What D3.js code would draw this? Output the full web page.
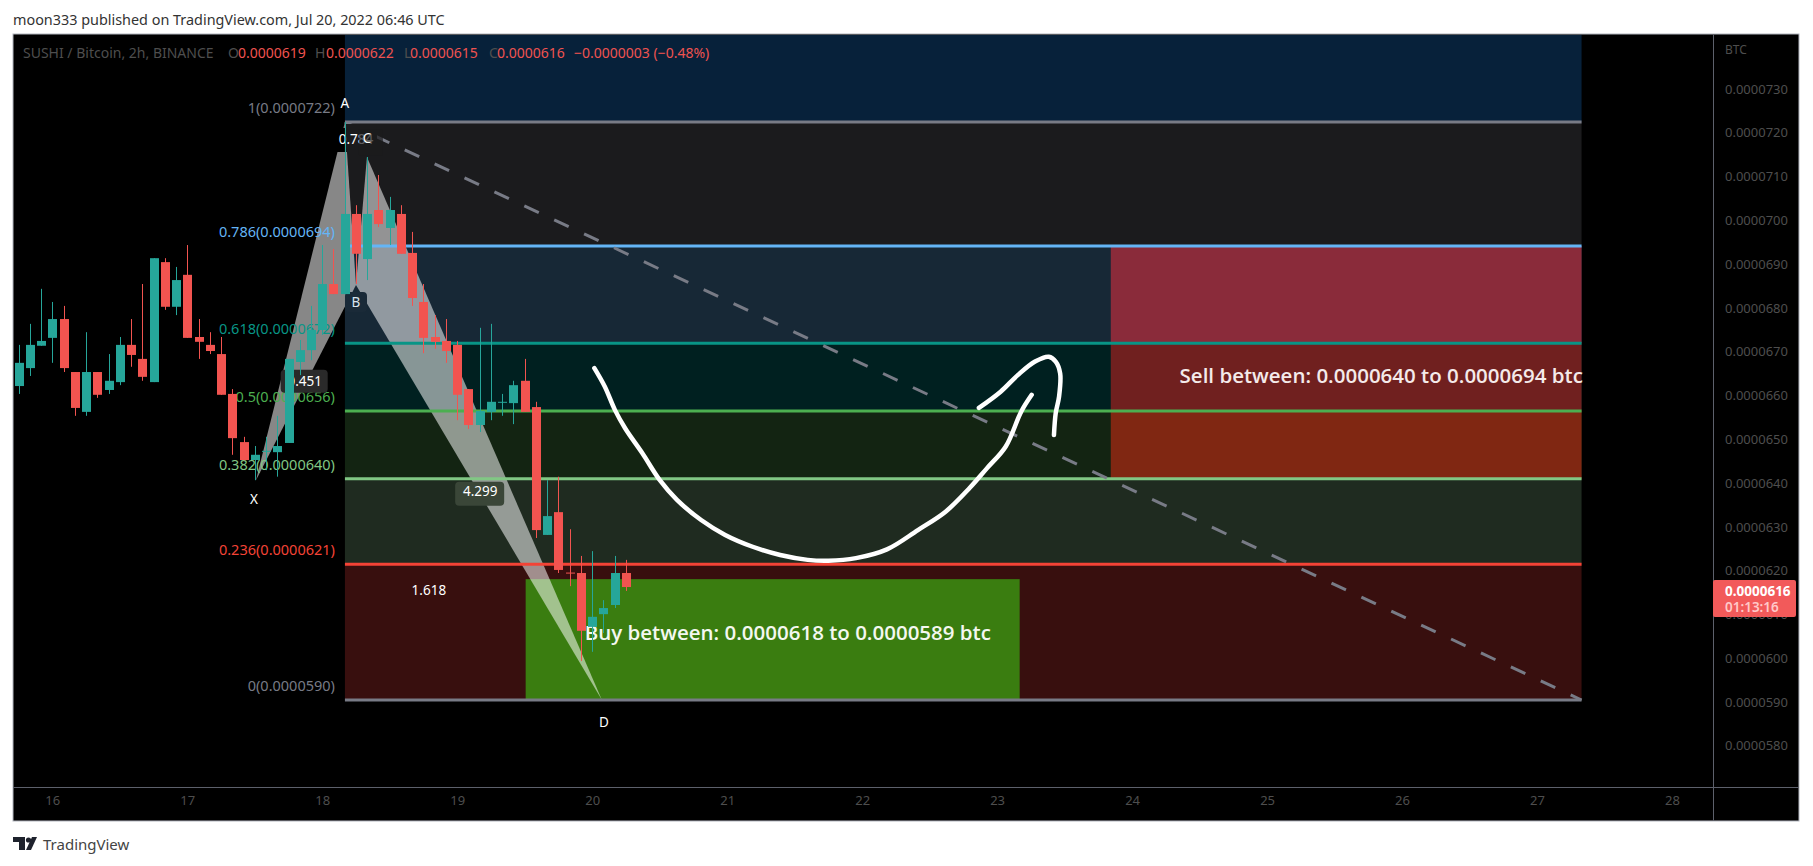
<!DOCTYPE html>
<html>
<head>
<meta charset="utf-8">
<title>SUSHI / Bitcoin</title>
<script src="https://cdn.jsdelivr.net/npm/d3@7"></script>
<style>
html,body{margin:0;padding:0;background:#fff;overflow:hidden;}
svg{display:block;font-family:"Noto Sans",Roboto,sans-serif;}
</style>
</head>
<body>
<div id="chart"></div>
<script>
// all prices are in units of 0.0000001 BTC
const firstBarDay=15.75;
const opens =[661.7,665.8,670.9,672.7,677.0,664.9,655.8,664.9,660.8,662.6,671.1,667.9,662.6,690.0,679.8,687.1,672.9,671.1,669.0,659.9,648.9,644.8,646.8,646.6,648.7,667.2,669.9,674.5,685.0,682.7,701.0,690.7,701.9,697.8,701.0,692.1,680.9,672.9,672.0,671.1,661.0,652.8,655.8,658.0,657.8,662.9,656.9,627.7,632.9,619.1,619.0,606.7,609.6,611.7,619.0];
const highs =[671.1,675.9,683.9,680.9,680.0,664.9,674.0,664.9,669.0,672.9,677.0,685.0,690.9,690.9,688.9,693.9,677.0,674.0,672.9,661.0,650.1,648.0,650.1,654.9,667.9,672.2,680.0,693.9,693.0,722.0,703.0,714.0,709.9,704.9,703.0,696.9,685.0,677.9,677.0,672.0,661.0,675.0,675.9,659.9,662.9,667.9,658.1,640.2,641.0,629.0,622.9,624.0,612.8,622.9,622.0];
const lows  =[659.9,664.0,670.9,667.0,664.9,654.9,654.9,659.0,659.9,661.9,666.1,662.9,662.6,679.1,677.9,672.7,667.9,669.0,659.7,646.0,644.8,640.2,642.5,641.0,648.7,664.2,667.6,673.4,682.7,682.7,685.0,685.9,698.0,693.9,691.9,680.0,669.2,670.2,667.0,653.9,651.9,651.2,653.9,654.9,653.0,655.8,627.0,627.7,619.0,616.0,598.9,601.0,605.3,611.0,614.9];
const closes=[667.0,671.1,672.0,677.0,665.8,656.7,664.9,659.7,662.9,671.1,668.8,663.8,690.9,679.8,685.9,672.7,671.8,669.7,659.7,649.8,644.8,646.0,646.9,648.0,667.9,669.9,674.5,685.0,682.7,701.0,691.9,701.0,698.7,701.9,691.9,681.8,672.7,671.8,669.7,659.7,652.8,656.0,658.1,658.1,661.9,655.8,628.8,632.0,619.7,619.0,605.8,609.0,611.0,619.0,615.8];

const dayTicks=[16,17,18,19,20,21,22,23,24,25,26,27,28];
const priceTicks=[730,720,710,700,690,680,670,660,650,640,630,620,610,600,590,580];

const fibPrices=[722,693.7,671.5,656,640.5,621,590];
const fibLabels=["1(0.0000722)","0.786(0.0000694)","0.618(0.0000672)","0.5(0.0000656)","0.382(0.0000640)","0.236(0.0000621)","0(0.0000590)"];
const fibColors=["#787b86","#64b5f6","#089586","#4caf50","#81c784","#f44336","#787b86"];
const bandColors=["#1b1b1d","#172836","#002020","#132412","#1f2b20","#380f0e"];
const fibStartDay=18.168, fibEndDay=27.33;
const topBandColor="#07213a";

const sellStartDay=23.842;
const sellColors=["#8a2b3a","#70201f","#802712"];
const buyDays=[19.507,23.167];
const buyPrices=[617.6,590];

const patternDays  =[17.509,18.168,18.25,18.331,20.072];
const patternPrices=[640.2,722,684.8,714,590];

const curveDays  =[20.016,20.093,20.169,20.245,20.373,20.501,20.628,20.807,20.985,21.189,21.393,21.597,21.75,21.954,22.184,22.413,22.618,22.796,22.924,23.064,23.179,23.256];
const curvePrices=[665.8,661.6,656.2,652.0,646.3,640.2,635.7,631.1,627.7,625.0,623.1,622.0,621.8,622.4,624.4,628.8,633.0,638.4,642.9,647.9,655.9,659.7];
const hookDays   =[22.865,23.026,23.153,23.281,23.383,23.434,23.467,23.459,23.434,23.421];
const hookPrices =[656.7,660.4,664.2,667.3,668.4,667.3,664.6,659.3,655.5,650.5];

const width=1813, height=866;
const paneLeft=13, paneRight=1799, paneTop=34, paneBottom=821, axisX=1713, axisY=787;

const x=d3.scaleLinear().domain([16,28]).range([52.3,1672]);
const y=d3.scaleLinear().domain([722,590]).range([122,700]);

const svg=d3.select("#chart").append("svg").attr("width",width).attr("height",height);

// pane
svg.append("rect").attr("x",paneLeft).attr("y",paneTop).attr("width",paneRight-paneLeft).attr("height",paneBottom-paneTop)
    .attr("fill","#000").attr("stroke","#b2b5be").attr("stroke-width",1);

// fib bands
const bandX=x(fibStartDay), bandW=x(fibEndDay)-x(fibStartDay);
svg.append("rect").attr("x",bandX).attr("y",paneTop+1).attr("width",bandW).attr("height",y(fibPrices[0])-paneTop-1).attr("fill",topBandColor);
bandColors.forEach((c,i)=>{
    svg.append("rect").attr("x",bandX).attr("y",y(fibPrices[i])).attr("width",bandW)
        .attr("height",y(fibPrices[i+1])-y(fibPrices[i])).attr("fill",c);
});

// sell + buy boxes
sellColors.forEach((c,i)=>{
    svg.append("rect").attr("x",x(sellStartDay)).attr("y",y(fibPrices[i+1]))
        .attr("width",x(fibEndDay)-x(sellStartDay)).attr("height",y(fibPrices[i+2])-y(fibPrices[i+1])).attr("fill",c);
});
svg.append("rect").attr("x",x(buyDays[0])).attr("y",y(buyPrices[0]))
    .attr("width",x(buyDays[1])-x(buyDays[0])).attr("height",y(buyPrices[1])-y(buyPrices[0])).attr("fill","#3a7d10");

// harmonic pattern
const pt=i=>[x(patternDays[i]),y(patternPrices[i])];
[[0,1,2],[2,3,4]].forEach(tri=>{
    svg.append("polygon").attr("points",tri.map(pt).map(p=>p.join(",")).join(" "))
        .attr("fill","#fff").attr("fill-opacity",0.53);
});

// fib lines
fibPrices.forEach((p,i)=>{
    svg.append("line").attr("x1",bandX).attr("x2",bandX+bandW).attr("y1",y(p)).attr("y2",y(p))
        .attr("stroke",fibColors[i]).attr("stroke-width",3);
    svg.append("text").attr("x",bandX-10).attr("y",y(p)-14).attr("dy","0.35em").attr("text-anchor","end")
        .attr("font-size",14.5).attr("fill",fibColors[i]).text(fibLabels[i]);
});

// dashed trend line
svg.append("line").attr("x1",bandX).attr("y1",y(722)).attr("x2",bandX+bandW).attr("y2",y(590))
    .attr("stroke","#787b86").attr("stroke-width",3).attr("stroke-dasharray","16 17");

// pattern labels
function label(txt,px,py,color){
    return svg.append("text").attr("x",px).attr("y",py).attr("dy","0.35em").attr("text-anchor","middle")
        .attr("font-size",13.5).attr("fill",color||"#fff").text(txt);
}
const [ax,ay]=pt(1), [bx,by]=pt(2), [cx,cy]=pt(3), [dx,dy]=pt(4), [xx,xy]=pt(0);
svg.append("rect").attr("x",ax-10).attr("y",ay+6).attr("width",10).attr("height",24).attr("fill","#000");
svg.append("rect").attr("x",ax).attr("y",ay+2).attr("width",32).attr("height",28).attr("fill","#1b1b1d");
label("0.784",ax+11,ay+17);
svg.append("rect").attr("x",cx-8).attr("y",cy-28).attr("width",24).attr("height",26).attr("fill","#1b1b1d").attr("fill-opacity",0.7);
label("C",cx,cy-19);
label("A",ax,ay-19);
svg.append("rect").attr("x",bx-11).attr("y",by+7).attr("width",22).attr("height",20).attr("rx",4).attr("fill","#1a2a38");
label("B",bx,by+17,"#d8e4ee");
label("X",xx-2,xy+19);
label("D",dx+2,dy+22);
svg.append("rect").attr("x",x(17.87)-24).attr("y",y(662.9)-11).attr("width",47).attr("height",23).attr("rx",4).attr("fill","#2a2a2a");
label("0.451",x(17.87),y(662.9));
svg.append("rect").attr("x",x(19.17)-25).attr("y",y(640.5)+3).attr("width",49).attr("height",24).attr("rx",4).attr("fill","#3a4638");
label("4.299",x(19.17),y(640.5)+12);
label("1.618",x(18.79),y(615));

// box texts
svg.append("text").attr("x",x(fibEndDay)-402).attr("y",y(fibPrices[3])-35).attr("dy","0.35em")
    .attr("font-size",20.5).attr("font-weight",600).attr("font-family","'Open Sans'").attr("fill","#f4eaea").text("Sell between: 0.0000640 to 0.0000694 btc");
svg.append("text").attr("x",x(buyDays[0])+59).attr("y",y(605.3)).attr("dy","0.35em")
    .attr("font-size",20.5).attr("font-weight",600).attr("font-family","'Open Sans'").attr("fill","#f4f8f0").text("Buy between: 0.0000618 to 0.0000589 btc");

// hand drawn arrow
const penLine=d3.line().x(d=>x(d[0])).y(d=>y(d[1])).curve(d3.curveCatmullRom);
[[curveDays,curvePrices],[hookDays,hookPrices]].forEach(([ds,ps])=>{
    svg.append("path").attr("d",penLine(d3.zip(ds,ps))).attr("fill","none")
        .attr("stroke","#fff").attr("stroke-width",4.5).attr("stroke-linecap","round").attr("stroke-linejoin","round");
});

// candles
const candles=svg.append("g");
opens.forEach((o,i)=>{
    const cxBar=Math.round(x(firstBarDay+i/12));
    const up=closes[i]>=o;
    const color=up?"#26a69a":"#f25450";
    candles.append("line").attr("x1",cxBar+0.5).attr("x2",cxBar+0.5).attr("y1",y(highs[i])).attr("y2",y(lows[i]))
        .attr("stroke",color).attr("stroke-width",1);
    const top=y(Math.max(o,closes[i])), bot=y(Math.min(o,closes[i]));
    candles.append("rect").attr("x",cxBar-4).attr("y",top).attr("width",9).attr("height",Math.max(bot-top,1)).attr("fill",color);
});

// axes
svg.append("rect").attr("x",axisX).attr("y",paneTop+1).attr("width",paneRight-axisX-1).attr("height",paneBottom-paneTop-2).attr("fill","#000");
svg.append("rect").attr("x",paneLeft+1).attr("y",axisY).attr("width",paneRight-paneLeft-2).attr("height",paneBottom-axisY-1).attr("fill","#000");
svg.append("line").attr("x1",axisX+0.5).attr("x2",axisX+0.5).attr("y1",paneTop).attr("y2",paneBottom).attr("stroke","#5d606b");
svg.append("line").attr("x1",paneLeft).attr("x2",paneRight).attr("y1",axisY+0.5).attr("y2",axisY+0.5).attr("stroke","#5d606b");

const yAxis=d3.axisRight(y).tickValues(priceTicks).tickSize(0).tickPadding(12).tickFormat(d=>(d/1e7).toFixed(7));
const yG=svg.append("g").attr("transform",`translate(${axisX},2)`).call(yAxis);
const xAxis=d3.axisBottom(x).tickValues(dayTicks).tickSize(0).tickPadding(9).tickFormat(d3.format("d"));
const xG=svg.append("g").attr("transform",`translate(0,${axisY})`).call(xAxis);
[yG,xG].forEach(g=>{
    g.select(".domain").remove();
    g.selectAll("text").attr("fill","#4e4e4e").attr("font-size",13).attr("font-family","'Noto Sans',Roboto,sans-serif");
});
svg.append("text").attr("x",1725).attr("y",50).attr("dy","0.35em").attr("font-size",12).attr("fill","#4e4e4e").text("BTC");

// last price tag
const lastClose=closes[closes.length-1];
svg.append("rect").attr("x",axisX).attr("y",y(lastClose)-7).attr("width",83).attr("height",37).attr("rx",2).attr("fill","#f25a5a");
svg.append("text").attr("x",1725).attr("y",y(lastClose)+4).attr("dy","0.35em").attr("font-size",13.5).attr("font-weight",700).attr("fill","#fff")
    .text((Math.round(lastClose)/1e7).toFixed(7));
svg.append("text").attr("x",1725).attr("y",y(lastClose)+20).attr("dy","0.35em").attr("font-size",13.5).attr("font-weight",600).attr("fill","#ffc9c9").text("01:13:16");

// header
svg.append("text").attr("x",13).attr("y",20).attr("dy","0.35em").attr("font-size",14.4).attr("fill","#333").text("moon333 published on TradingView.com, Jul 20, 2022 06:46 UTC");
const legend=[["SUSHI / Bitcoin, 2h, BINANCE",23,"#4e4e4e"],["O",228,"#4e4e4e"],["0.0000619",238,"#ef5350"],["H",315,"#4e4e4e"],["0.0000622",326,"#ef5350"],
    ["L",404,"#4e4e4e"],["0.0000615",410,"#ef5350"],["C",489,"#4e4e4e"],["0.0000616",497,"#ef5350"],["−0.0000003 (−0.48%)",574,"#ef5350"]];
legend.forEach(d=>{
    svg.append("text").attr("x",d[1]).attr("y",53).attr("dy","0.35em").attr("font-size",14).attr("fill",d[2]).text(d[0]);
});

// footer logo
const logo=svg.append("g").attr("fill","#1e222d");
logo.append("path").attr("d","M13 837H25V850H19V842H13Z");
logo.append("circle").attr("cx",28.5).attr("cy",840).attr("r",2.6);
logo.append("path").attr("d","M32 837H37L31 850H26Z");
svg.append("text").attr("x",43).attr("y",845).attr("dy","0.35em").attr("font-size",15).attr("fill","#444").text("TradingView");
</script>
</body>
</html>
